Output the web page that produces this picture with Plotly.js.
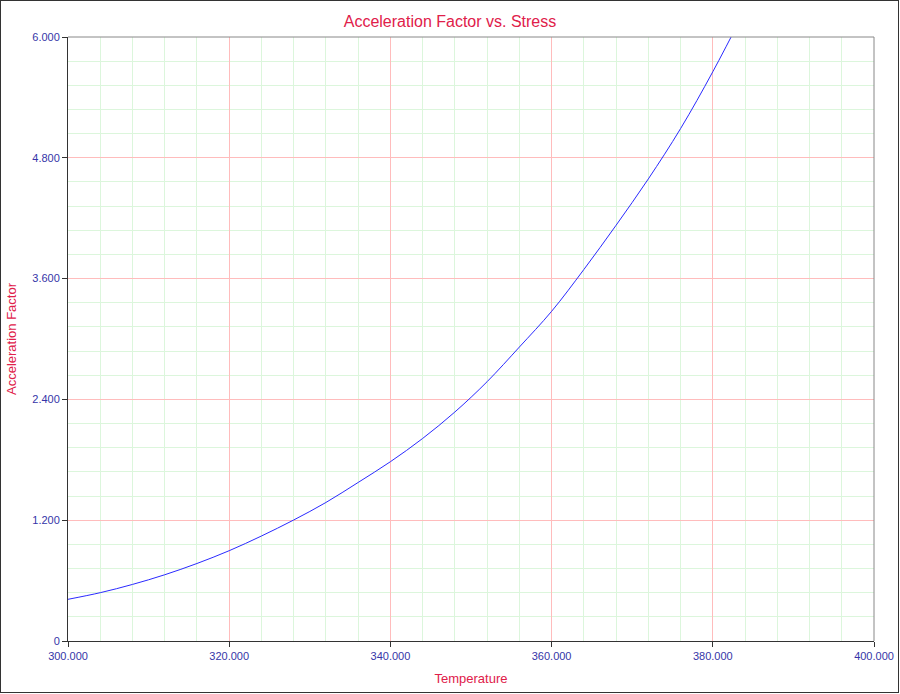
<!DOCTYPE html>
<html>
<head>
<meta charset="utf-8">
<script src="https://cdn.plot.ly/plotly-3.0.1.min.js"></script>
<style>
  html, body { margin: 0; padding: 0; background: #fff; }
  #wrap { position: relative; width: 900px; height: 694px; }
  #chart { width: 900px; height: 694px; }
  #frame { position: absolute; left: 0; top: 0; width: 899px; height: 693px; box-sizing: border-box; border: 1px solid #333; pointer-events: none; }
</style>
</head>
<body>
<div id="wrap"><div id="chart"></div><div id="frame"></div></div>
<script>
// Temperature values
const temperature = [300, 304, 308, 312, 316, 320, 324, 328, 332, 336, 340, 344, 348, 352, 356, 360, 364, 368, 372, 376, 380, 384];
// Acceleration factor values
const accelFactor = [0.414, 0.480, 0.562, 0.658, 0.770, 0.897, 1.043, 1.202, 1.376, 1.575, 1.781, 2.012, 2.275, 2.576, 2.920, 3.275, 3.690, 4.130, 4.590, 5.090, 5.655, 6.270];

const xTickVals = [300, 320, 340, 360, 380, 400];
const xTickText = ['300.000', '320.000', '340.000', '360.000', '380.000', '400.000'];
const yTickVals = [0, 1.2, 2.4, 3.6, 4.8, 6.0];
const yTickText = ['0', '1.200', '2.400', '3.600', '4.800', '6.000'];
// minor grid positions (between the major ticks)
const xMinorVals = [304, 308, 312, 316, 324, 328, 332, 336, 344, 348, 352, 356, 364, 368, 372, 376, 384, 388, 392, 396];
const yMinorVals = [0.24, 0.48, 0.72, 0.96, 1.44, 1.68, 1.92, 2.16, 2.64, 2.88, 3.12, 3.36, 3.84, 4.08, 4.32, 4.56, 5.04, 5.28, 5.52, 5.76];

const FONT = 'Liberation Sans, Arial, sans-serif';
const TITLE_COLOR = '#e0204a';
const TICK_COLOR = '#3535a8';

const trace = {
  x: temperature,
  y: accelFactor,
  type: 'scatter',
  mode: 'lines',
  line: { color: '#2a2aff', width: 1, shape: 'spline', smoothing: 1 },
  hoverinfo: 'x+y'
};

const layout = {
  width: 900,
  height: 694,
  margin: { l: 68, r: 26, t: 37, b: 53 },
  paper_bgcolor: '#ffffff',
  plot_bgcolor: '#ffffff',
  showlegend: false,
  title: {
    text: 'Acceleration Factor vs. Stress',
    font: { family: FONT, size: 16, color: TITLE_COLOR },
    x: 0.5, xanchor: 'center',
    y: 1 - 21 / 694, yanchor: 'middle', yref: 'container'
  },
  xaxis: {
    range: [300, 400],
    tickmode: 'array', tickvals: xTickVals, ticktext: xTickText,
    ticks: 'outside', ticklen: 5, tickcolor: '#333',
    tickfont: { family: FONT, size: 11, color: TICK_COLOR },
    showline: true, linecolor: '#333', linewidth: 1,
    showgrid: true, gridcolor: '#ffbcbc', gridwidth: 1,
    zeroline: false,
    minor: { tickmode: 'array', tickvals: xMinorVals, showgrid: true, gridcolor: '#dcf6dc', gridwidth: 1, ticks: '' },
    title: { text: 'Temperature', font: { family: FONT, size: 13, color: TITLE_COLOR }, standoff: 12 },
    automargin: false
  },
  yaxis: {
    range: [0, 6],
    tickmode: 'array', tickvals: yTickVals, ticktext: yTickText,
    ticks: 'outside', ticklen: 5, tickcolor: '#333',
    tickfont: { family: FONT, size: 11, color: TICK_COLOR },
    showline: true, linecolor: '#333', linewidth: 1,
    showgrid: true, gridcolor: '#ffbcbc', gridwidth: 1,
    zeroline: false,
    minor: { tickmode: 'array', tickvals: yMinorVals, showgrid: true, gridcolor: '#dcf6dc', gridwidth: 1, ticks: '' },
    title: { text: 'Acceleration Factor', font: { family: FONT, size: 13, color: TITLE_COLOR }, standoff: 12 },
    automargin: false
  },
  shapes: [
    { type: 'line', xref: 'paper', yref: 'paper', x0: 0, x1: 1, y0: 1, y1: 1, line: { color: '#888', width: 1 } },
    { type: 'line', xref: 'paper', yref: 'paper', x0: 1, x1: 1, y0: 0, y1: 1, line: { color: '#888', width: 1 } }
  ]
};

Plotly.newPlot('chart', [trace], layout, { displayModeBar: false, staticPlot: true });
</script>
</body>
</html>
